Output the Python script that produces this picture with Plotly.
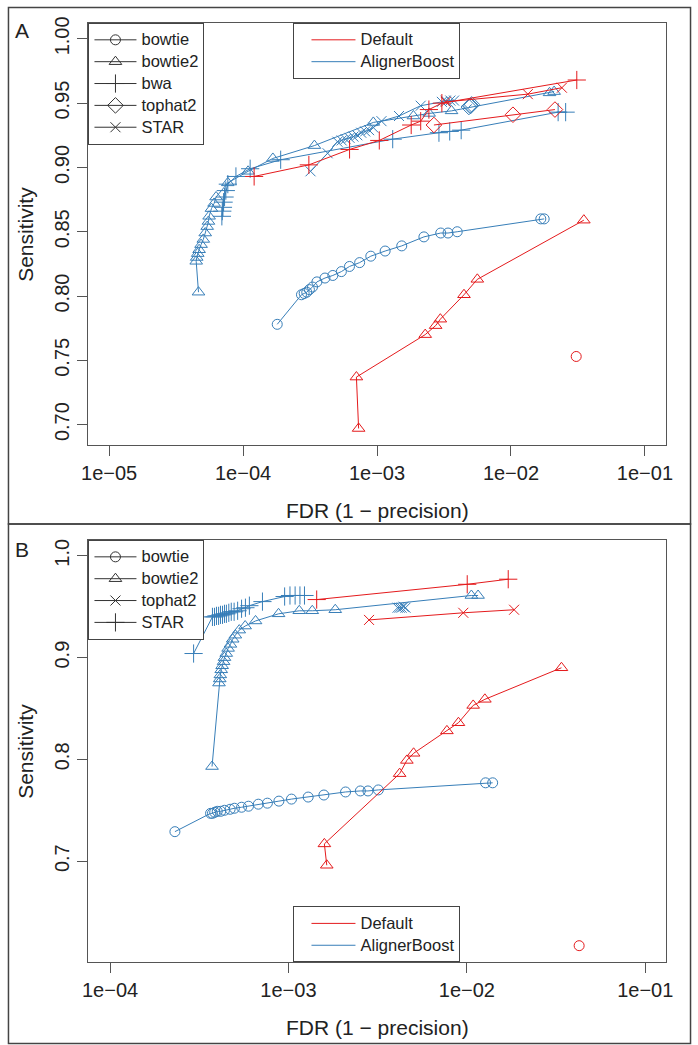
import plotly.graph_objects as go

W, H = 698, 1045
RED = "#E41A1C"
BLUE = "#377EB8"
INK = "#333333"
FRAME = "#555555"
FONT = "Liberation Sans, Arial, Helvetica, sans-serif"

# ---------------- categories / labels ----------------
tools_A = ["bowtie", "bowtie2", "bwa", "tophat2", "STAR"]
tools_B = ["bowtie", "bowtie2", "tophat2", "STAR"]
methods = ["Default", "AlignerBoost"]
method_colors = [RED, BLUE]
symbols_A = {"bowtie": "circle-open", "bowtie2": "triangle-up-open", "bwa": "cross-thin-open",
             "tophat2": "diamond-open", "STAR": "x-thin-open"}
symbols_B = {"bowtie": "circle-open", "bowtie2": "triangle-up-open", "tophat2": "x-thin-open",
             "STAR": "cross-thin-open"}
symbol_sizes = {"circle-open": 10, "triangle-up-open": 11, "cross-thin-open": 13,
                "diamond-open": 12, "x-thin-open": 10}

x_ticks_A = [1e-5, 1e-4, 1e-3, 1e-2, 1e-1]
x_ticktext_A = ["1e\u221205", "1e\u221204", "1e\u221203", "1e\u221202", "1e\u221201"]
y_ticks_A = [0.70, 0.75, 0.80, 0.85, 0.90, 0.95, 1.00]
y_ticktext_A = ["0.70", "0.75", "0.80", "0.85", "0.90", "0.95", "1.00"]
x_ticks_B = [1e-4, 1e-3, 1e-2, 1e-1]
x_ticktext_B = ["1e\u221204", "1e\u221203", "1e\u221202", "1e\u221201"]
y_ticks_B = [0.7, 0.8, 0.9, 1.0]
y_ticktext_B = ["0.7", "0.8", "0.9", "1.0"]

# ---------------- Panel A data (FDR, Sensitivity) ----------------
A_bowtie_default_fdr = [0.0307]
A_bowtie_default_sens = [0.753]
A_bowtie_boost_fdr = [1.80e-4, 2.73e-4, 2.86e-4, 2.99e-4, 3.13e-4, 3.30e-4, 3.56e-4, 4.09e-4, 4.68e-4,
                      5.42e-4, 6.23e-4, 7.42e-4, 8.99e-4, 1.15e-3, 1.53e-3, 2.24e-3, 2.99e-3, 3.39e-3,
                      3.97e-3, 0.0167, 0.0177]
A_bowtie_boost_sens = [0.778, 0.801, 0.802, 0.803, 0.805, 0.807, 0.811, 0.814, 0.816, 0.819, 0.823,
                       0.826, 0.831, 0.835, 0.839, 0.846, 0.849, 0.849, 0.850, 0.860, 0.860]

A_bowtie2_default_fdr = [7.29e-4, 7.02e-4, 2.29e-3, 2.74e-3, 2.97e-3, 4.46e-3, 5.61e-3, 0.0350]
A_bowtie2_default_sens = [0.697, 0.737, 0.770, 0.777, 0.782, 0.801, 0.813, 0.859]
A_bowtie2_boost_fdr = [4.65e-5, 4.47e-5, 4.51e-5, 4.59e-5, 4.70e-5, 4.86e-5, 5.05e-5, 5.22e-5, 5.40e-5,
                       5.52e-5, 5.58e-5, 5.81e-5, 6.08e-5, 6.29e-5, 7.70e-5, 1.09e-4, 1.67e-4, 3.41e-4,
                       9.39e-4, 1.87e-3, 2.45e-3, 3.60e-3, 0.0194, 0.0210]
A_bowtie2_boost_sens = [0.803, 0.827, 0.830, 0.833, 0.836, 0.840, 0.844, 0.849, 0.854, 0.858, 0.862,
                        0.868, 0.872, 0.877, 0.888, 0.897, 0.907, 0.917, 0.935, 0.940, 0.942, 0.944,
                        0.958, 0.959]

A_bwa_default_fdr = [1.21e-4, 3.10e-4, 6.24e-4, 1.04e-3, 1.80e-3, 2.12e-3, 2.44e-3, 3.05e-3, 0.0310]
A_bwa_default_sens = [0.893, 0.902, 0.914, 0.921, 0.933, 0.936, 0.945, 0.950, 0.968]
A_bwa_boost_fdr = [6.95e-5, 7.00e-5, 7.08e-5, 7.16e-5, 7.28e-5, 7.44e-5, 7.70e-5, 8.85e-5, 1.13e-4,
                   1.91e-4, 1.31e-3, 2.90e-3, 3.49e-3, 4.25e-3, 0.0225, 0.0256]
A_bwa_boost_sens = [0.862, 0.866, 0.869, 0.873, 0.877, 0.882, 0.887, 0.893, 0.899, 0.906, 0.922,
                    0.927, 0.928, 0.929, 0.943, 0.943]

A_tophat2_default_fdr = [2.66e-3, 0.01035, 0.0213]
A_tophat2_default_sens = [0.933, 0.941, 0.945]
A_tophat2_boost_fdr = [4.85e-3, 4.95e-3, 5.02e-3, 5.10e-3]
A_tophat2_boost_sens = [0.947, 0.948, 0.948, 0.949]

A_STAR_default_fdr = [3.26e-3, 0.01336, 0.0240]
A_STAR_default_sens = [0.951, 0.957, 0.962]
A_STAR_boost_fdr = [3.19e-4, 4.28e-4, 5.07e-4, 5.45e-4, 5.83e-4, 6.24e-4, 6.67e-4, 7.13e-4, 7.63e-4,
                    8.16e-4, 8.73e-4, 9.39e-4, 1.08e-3, 1.46e-3, 2.12e-3, 3.05e-3, 3.26e-3, 3.53e-3,
                    3.76e-3]
A_STAR_boost_sens = [0.897, 0.911, 0.920, 0.921, 0.922, 0.923, 0.924, 0.925, 0.927, 0.928, 0.929,
                     0.931, 0.936, 0.940, 0.948, 0.951, 0.952, 0.952, 0.952]

# ---------------- Panel B data (FDR, Sensitivity) ----------------
B_bowtie_default_fdr = [0.0426]
B_bowtie_default_sens = [0.617]
B_bowtie_boost_fdr = [2.31e-4, 3.66e-4, 3.75e-4, 3.86e-4, 3.99e-4, 4.17e-4, 4.38e-4, 4.71e-4, 4.98e-4,
                      5.46e-4, 5.97e-4, 6.78e-4, 7.62e-4, 8.84e-4, 1.04e-3, 1.29e-3, 1.58e-3, 2.09e-3,
                      2.53e-3, 2.79e-3, 3.19e-3, 0.01273, 0.01395]
B_bowtie_boost_sens = [0.729, 0.747, 0.747, 0.748, 0.749, 0.749, 0.750, 0.751, 0.752, 0.753, 0.754,
                       0.756, 0.757, 0.759, 0.761, 0.763, 0.765, 0.768, 0.769, 0.769, 0.770, 0.777,
                       0.777]

B_bowtie2_default_fdr = [1.64e-3, 1.59e-3, 4.20e-3, 4.61e-3, 5.03e-3, 7.73e-3, 8.97e-3, 0.01085,
                         0.01262, 0.0339]
B_bowtie2_default_sens = [0.696, 0.717, 0.786, 0.799, 0.806, 0.828, 0.836, 0.853, 0.859, 0.890]
B_bowtie2_boost_fdr = [3.73e-4, 4.08e-4, 4.12e-4, 4.15e-4, 4.20e-4, 4.25e-4, 4.33e-4, 4.38e-4, 4.48e-4,
                       4.59e-4, 4.73e-4, 4.87e-4, 5.04e-4, 5.30e-4, 5.72e-4, 6.54e-4, 8.80e-4, 1.15e-3,
                       1.36e-3, 1.83e-3, 0.0106, 0.01156]
B_bowtie2_boost_sens = [0.793, 0.875, 0.879, 0.883, 0.888, 0.892, 0.896, 0.900, 0.904, 0.909, 0.913,
                        0.918, 0.922, 0.927, 0.931, 0.936, 0.943, 0.946, 0.946, 0.947, 0.961, 0.961]

B_tophat2_default_fdr = [2.83e-3, 9.55e-3, 0.0184]
B_tophat2_default_sens = [0.937, 0.944, 0.947]
B_tophat2_boost_fdr = [4.09e-3, 4.20e-3, 4.31e-3, 4.42e-3, 4.53e-3]
B_tophat2_boost_sens = [0.949, 0.949, 0.949, 0.950, 0.949]

B_STAR_default_fdr = [1.44e-3, 0.01005, 0.01706]
B_STAR_default_sens = [0.957, 0.972, 0.977]
B_STAR_boost_fdr = [2.94e-4, 3.75e-4, 3.85e-4, 3.95e-4, 4.06e-4, 4.16e-4, 4.27e-4, 4.38e-4, 4.49e-4,
                    4.63e-4, 4.78e-4, 4.96e-4, 5.19e-4, 5.46e-4, 5.74e-4, 6.04e-4, 7.15e-4, 9.52e-4,
                    1.02e-3, 1.09e-3, 1.16e-3, 1.23e-3]
B_STAR_boost_sens = [0.904, 0.940, 0.940, 0.941, 0.941, 0.942, 0.942, 0.943, 0.943, 0.944, 0.945,
                     0.945, 0.946, 0.948, 0.949, 0.951, 0.955, 0.960, 0.961, 0.961, 0.961, 0.961]

panel_A_series = {
    ("bowtie", "AlignerBoost"): (A_bowtie_boost_fdr, A_bowtie_boost_sens),
    ("bowtie2", "AlignerBoost"): (A_bowtie2_boost_fdr, A_bowtie2_boost_sens),
    ("bwa", "AlignerBoost"): (A_bwa_boost_fdr, A_bwa_boost_sens),
    ("tophat2", "AlignerBoost"): (A_tophat2_boost_fdr, A_tophat2_boost_sens),
    ("STAR", "AlignerBoost"): (A_STAR_boost_fdr, A_STAR_boost_sens),
    ("bowtie", "Default"): (A_bowtie_default_fdr, A_bowtie_default_sens),
    ("bowtie2", "Default"): (A_bowtie2_default_fdr, A_bowtie2_default_sens),
    ("bwa", "Default"): (A_bwa_default_fdr, A_bwa_default_sens),
    ("tophat2", "Default"): (A_tophat2_default_fdr, A_tophat2_default_sens),
    ("STAR", "Default"): (A_STAR_default_fdr, A_STAR_default_sens),
}
panel_B_series = {
    ("bowtie", "AlignerBoost"): (B_bowtie_boost_fdr, B_bowtie_boost_sens),
    ("bowtie2", "AlignerBoost"): (B_bowtie2_boost_fdr, B_bowtie2_boost_sens),
    ("tophat2", "AlignerBoost"): (B_tophat2_boost_fdr, B_tophat2_boost_sens),
    ("STAR", "AlignerBoost"): (B_STAR_boost_fdr, B_STAR_boost_sens),
    ("bowtie", "Default"): (B_bowtie_default_fdr, B_bowtie_default_sens),
    ("bowtie2", "Default"): (B_bowtie2_default_fdr, B_bowtie2_default_sens),
    ("tophat2", "Default"): (B_tophat2_default_fdr, B_tophat2_default_sens),
    ("STAR", "Default"): (B_STAR_default_fdr, B_STAR_default_sens),
}

LEGEND_TEXT_PX = 16.5


def legend_label(text):
    return '<span style="font-size:%spx">%s</span>' % (LEGEND_TEXT_PX, text)


fig = go.Figure()


def add_panel(series, symbols, xa, ya):
    for (tool, method), (fdr, sens) in series.items():
        col = method_colors[methods.index(method)]
        sym = symbols[tool]
        fig.add_trace(go.Scatter(
            x=fdr, y=sens, xaxis=xa, yaxis=ya, mode="lines+markers",
            line=dict(color=col, width=1),
            marker=dict(symbol=sym, size=symbol_sizes[sym], color=col,
                        line=dict(color=col, width=1)),
            showlegend=False, hoverinfo="skip"))


def add_legends(tools, symbols, xa, ya, tool_legend, method_legend):
    for tool in tools:
        sym = symbols[tool]
        fig.add_trace(go.Scatter(
            x=[None], y=[None], xaxis=xa, yaxis=ya, mode="lines+markers", name=legend_label(tool),
            line=dict(color=INK, width=1),
            marker=dict(symbol=sym, size=symbol_sizes[sym], color=INK,
                        line=dict(color=INK, width=1)),
            legend=tool_legend, showlegend=True))
    for method, col in zip(methods, method_colors):
        fig.add_trace(go.Scatter(
            x=[None], y=[None], xaxis=xa, yaxis=ya, mode="lines", name=legend_label(method),
            line=dict(color=col, width=1), legend=method_legend, showlegend=True))


add_panel(panel_A_series, symbols_A, "x", "y")
add_panel(panel_B_series, symbols_B, "x2", "y2")
add_legends(tools_A, symbols_A, "x", "y", "legend", "legend2")
add_legends(tools_B, symbols_B, "x2", "y2", "legend3", "legend4")


def px_x(p):
    return p / W


def px_y(p):
    return 1 - p / H


plot_left, plot_right = 83, 672
A_top, A_bottom = 17, 442
B_top, B_bottom = 537, 962

axis_common = dict(showline=True, mirror=True, linecolor=FRAME, linewidth=1, ticks="outside",
                   ticklen=10, tickcolor=FRAME, tickwidth=1, showgrid=False, zeroline=False,
                   tickfont=dict(family=FONT, size=20, color="#222222"))

legend_common = dict(bordercolor="#444444", borderwidth=1, bgcolor="white",
                     font=dict(family=FONT, size=14.5, color="#222222"), tracegroupgap=0)

fig.update_layout(
    width=W, height=H, margin=dict(l=0, r=0, t=0, b=0),
    paper_bgcolor="white", plot_bgcolor="white",
    font=dict(family=FONT, color="#222222"),
    xaxis=dict(domain=[px_x(plot_left), px_x(plot_right)], anchor="y", type="log",
               range=[-5.154, -0.839], tickvals=x_ticks_A, ticktext=x_ticktext_A, **axis_common),
    yaxis=dict(domain=[px_y(A_bottom), px_y(A_top)], anchor="x", range=[0.6838, 1.0124],
               tickvals=y_ticks_A, ticktext=y_ticktext_A, tickangle=-90, **axis_common),
    xaxis2=dict(domain=[px_x(plot_left), px_x(plot_right)], anchor="y2", type="log",
                range=[-4.121, -0.881], tickvals=x_ticks_B, ticktext=x_ticktext_B, **axis_common),
    yaxis2=dict(domain=[px_y(B_bottom), px_y(B_top)], anchor="x2", range=[0.6005, 1.0156],
                tickvals=y_ticks_B, ticktext=y_ticktext_B, tickangle=-90, **axis_common),
    legend=dict(x=px_x(plot_left), y=px_y(A_top), xanchor="left", yanchor="top",
                itemwidth=42, **legend_common),
    legend2=dict(x=px_x(377), y=px_y(A_top), xanchor="center", yanchor="top",
                 itemwidth=44, indentation=12, **legend_common),
    legend3=dict(x=px_x(plot_left), y=px_y(B_top), xanchor="left", yanchor="top",
                 itemwidth=42, **legend_common),
    legend4=dict(x=px_x(377), y=px_y(B_bottom), xanchor="center", yanchor="bottom",
                 itemwidth=44, indentation=12, **legend_common),
    showlegend=True,
)

annots = [
    dict(text="A", x=px_x(15.5), y=px_y(25)),
    dict(text="B", x=px_x(15.5), y=px_y(547)),
    dict(text="Sensitivity", x=px_x(19), y=px_y((A_top + A_bottom) / 2), textangle=-90),
    dict(text="Sensitivity", x=px_x(19), y=px_y((B_top + B_bottom) / 2), textangle=-90),
    dict(text="FDR (1 \u2212 precision)", x=px_x(377.5), y=px_y(A_bottom + 65)),
    dict(text="FDR (1 \u2212 precision)", x=px_x(377.5), y=px_y(B_bottom + 65)),
]
for a in annots:
    fig.add_annotation(xref="paper", yref="paper", showarrow=False, xanchor="center",
                       yanchor="middle", font=dict(family=FONT, size=21, color="#222222"), **a)

# outer panel frames
fig.add_shape(type="rect", xref="paper", yref="paper", x0=px_x(1.5), x1=px_x(696.5),
              y0=px_y(521), y1=px_y(1.5), line=dict(color="#444444", width=1.5))
fig.add_shape(type="rect", xref="paper", yref="paper", x0=px_x(1.5), x1=px_x(696.5),
              y0=px_y(1043.5), y1=px_y(521), line=dict(color="#444444", width=1.5))

fig.write_html("out.html", config={"displayModeBar": False, "staticPlot": True},
               post_script="document.body.style.margin='0px';")
